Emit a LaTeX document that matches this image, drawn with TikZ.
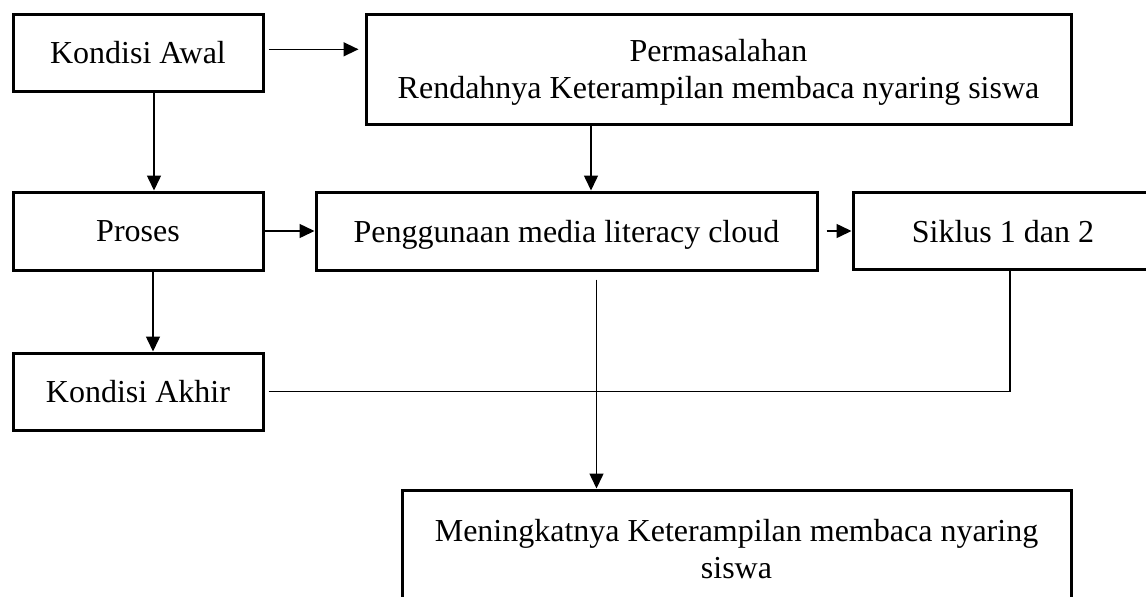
\documentclass[tikz,border=0pt]{standalone}
\usepackage{fontspec}
\setmainfont{Liberation Serif}
\usetikzlibrary{arrows.meta}
\begin{document}
\begin{tikzpicture}[x=0.5pt,y=-0.5pt,
    kotak/.style={draw,line width=1.5pt,inner sep=0pt,align=center,text depth=0pt,
      font=\fontsize{16}{18.5}\selectfont},
    garis/.style={line width=0.75pt},
    panah/.style={garis,-{Triangle[length=7.5pt,width=7pt]}}]
  \useasboundingbox (0,0) rectangle (1146,596);
  % kotak-kotak
  \node[kotak,minimum width=125pt,minimum height=38.5pt] (awal) at (138,52.5) {Kondisi Awal};
  \node[kotak,minimum width=352.5pt,minimum height=55pt] (masalah) at (718.5,69)
    {Permasalahan\\Rendahnya Keterampilan membaca nyaring siswa};
  \node[kotak,minimum width=125pt,minimum height=39pt] (proses) at (138,231) {Proses};
  \node[kotak,minimum width=250.5pt,minimum height=39pt] (media) at (566.5,231) {Penggunaan media literacy cloud};
  \node[kotak,minimum width=150pt,minimum height=38.5pt] (siklus) at (1003,231) {Siklus 1 dan 2};
  \node[kotak,minimum width=125pt,minimum height=38.5pt] (akhir) at (138,391.5) {Kondisi Akhir};
  \node[kotak,minimum width=334.5pt,minimum height=59pt] (hasil) at (736.5,549)
    {Meningkatnya Keterampilan membaca nyaring\\siswa};
  % panah
  \draw[panah,shorten <=2pt,shorten >=3pt] ([yshift=1.6pt]awal.east) -- ([yshift=1.6pt]awal.east -| masalah.west);
  \draw[panah] ([xshift=8pt]awal.south) -- ([xshift=8pt]awal.south |- proses.north);
  \draw[panah] ([xshift=12.25pt]media.north |- masalah.south) -- ([xshift=12.25pt]media.north);
  \draw[panah] (proses.east) -- (media.west);
  \draw[panah,shorten <=4pt] (media.east) -- (siklus.west);
  \draw[panah] ([xshift=7.5pt]proses.south) -- ([xshift=7.5pt]proses.south |- akhir.north);
  \draw[garis] ([xshift=2pt]akhir.east) -| ([xshift=3.5pt]siklus.south);
  \draw[panah,shorten <=4pt] ([xshift=15pt]media.south) -- ([xshift=15pt]media.south |- hasil.north);
\end{tikzpicture}
\end{document}
